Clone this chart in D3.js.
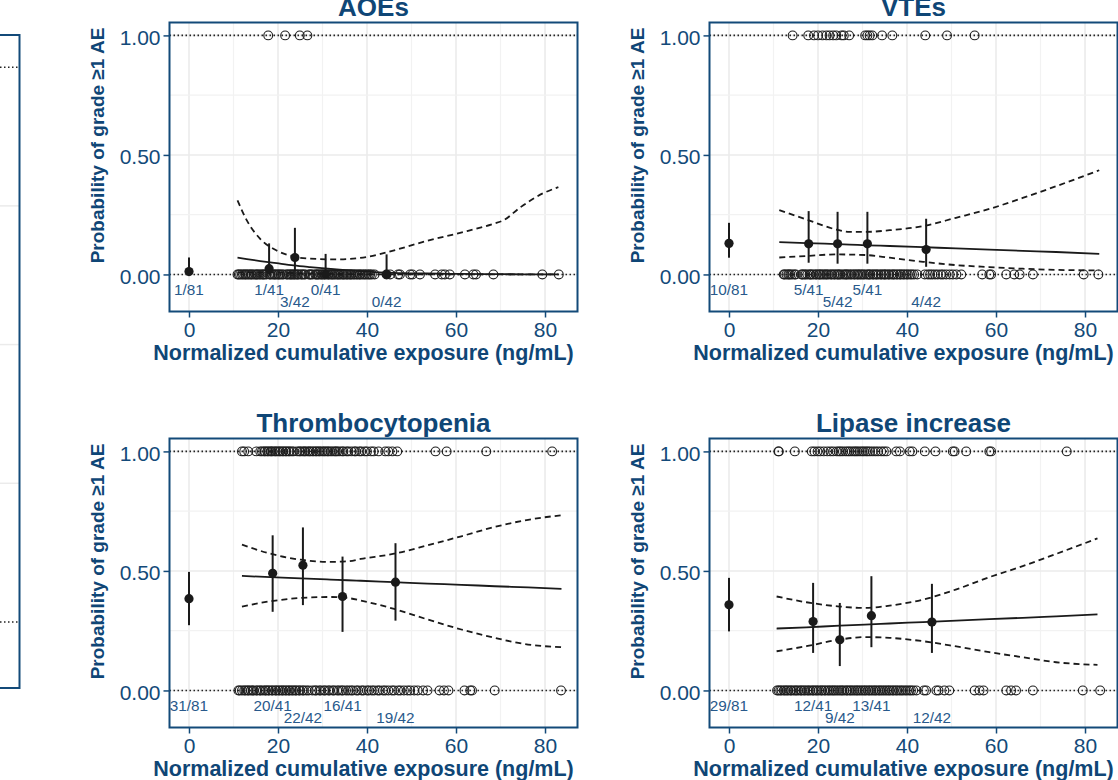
<!DOCTYPE html>
<html>
<head>
<meta charset="utf-8">
<script src="https://cdn.jsdelivr.net/npm/d3@7"></script>
<style>
  body { margin: 0; background: #fff; }
  svg { display: block; font-family: "Liberation Sans", Arial, sans-serif; }
</style>
</head>
<body>
<div id="chart"></div>
<script>
// ---------------- data ----------------
// AOEs
var aoeGroupX = [0, 18.0, 23.8, 30.7, 44.4];
var aoeGroupP = [0.012, 0.024, 0.071, 0, 0];
var aoeGroupLo = [0.0003, 0.001, 0.015, 0, 0];
var aoeGroupHi = [0.071, 0.13, 0.195, 0.086, 0.084];
var aoeGroupLabel = ["1/81", "1/41", "3/42", "0/41", "0/42"];
var aoeCurveX = [10.9, 13, 16, 19.7, 23.5, 27.2, 33.2, 39.9, 45.9, 53.4, 60.9, 68.4, 70.6, 74.4, 79.6, 83];
var aoeFit = [0.070, 0.064, 0.056, 0.047, 0.038, 0.031, 0.021, 0.012, 0.007, 0.004, 0.002, 0.001, 0.001, 0.0007, 0.0005, 0.0004];
var aoeUpper = [0.31, 0.226, 0.149, 0.10, 0.075, 0.066, 0.063, 0.073, 0.10, 0.14, 0.174, 0.212, 0.226, 0.28, 0.34, 0.365];
var aoeLower = [0.008, 0.009, 0.009, 0.008, 0.006, 0.004, 0.002, 0.001, 0.0004, 0.0001, 0, 0, 0, 0, 0, 0];
var aoeEvents = [17.8, 21.6, 24.9, 26.6];
var aoeNoEvents = [10.9, 11.2, 11.5, 11.9, 12.2, 12.6, 12.8, 13.2, 13.5, 13.9, 14.1, 14.5, 14.9, 15.2, 15.4, 15.8, 16.1, 16.5, 16.7, 17.0, 17.4, 18.1, 18.3, 18.7, 19.1, 19.3, 19.6, 20.0, 20.2, 20.5, 20.9, 21.2, 21.9, 22.1, 22.5, 22.8, 23.0, 23.3, 23.6, 23.8, 24.2, 24.4, 24.7, 25.2, 25.4, 25.8, 26.1, 26.9, 27.2, 27.4, 27.8, 28.4, 28.6, 28.9, 29.1, 29.5, 29.8, 30.0, 30.4, 30.5, 30.9, 31.3, 31.4, 31.8, 32.1, 32.3, 32.6, 32.9, 33.3, 33.5, 33.8, 34.1, 34.5, 34.7, 35.0, 35.4, 35.6, 36.0, 36.3, 36.5, 36.9, 37.2, 37.6, 37.9, 38.3, 38.5, 38.9, 39.3, 39.6, 40.0, 40.4, 40.7, 41.1, 41.7, 44.4, 45.2, 47.0, 47.4, 49.7, 50.2, 51.9, 55.3, 56.8, 57.5, 58.6, 62.0, 63.9, 64.5, 68.4, 79.4, 83.1];

// VTEs
var vteGroupX = [0, 17.9, 24.4, 31.1, 44.3];
var vteGroupP = [0.13, 0.128, 0.128, 0.128, 0.104];
var vteGroupLo = [0.07, 0.049, 0.045, 0.045, 0.032];
var vteGroupHi = [0.216, 0.265, 0.262, 0.262, 0.233];
var vteGroupLabel = ["10/81", "5/41", "5/42", "5/41", "4/42"];
var vteCurveX = [11.3, 17.4, 24.1, 27.1, 30.9, 36.1, 43.6, 51.0, 58.5, 66.0, 73.5, 83.2];
var vteFit = [0.135, 0.131, 0.127, 0.125, 0.122, 0.119, 0.114, 0.109, 0.104, 0.099, 0.094, 0.086];
var vteUpper = [0.269, 0.23, 0.188, 0.178, 0.178, 0.185, 0.202, 0.237, 0.274, 0.32, 0.369, 0.436];
var vteLower = [0.071, 0.077, 0.084, 0.083, 0.081, 0.07, 0.053, 0.039, 0.031, 0.024, 0.019, 0.017];
var vteEvents = [14.3, 17.8, 19.1, 20.0, 21.0, 21.9, 22.6, 23.4, 24.1, 25.3, 25.8, 27.0, 30.6, 31.1, 31.6, 32.2, 34.4, 36.7, 44.1, 49.0, 55.2];
var vteNoEvents = [12.3, 12.5, 12.9, 13.3, 13.5, 13.8, 14.2, 14.7, 15.0, 16.3, 16.5, 16.9, 17.2, 17.6, 18.1, 18.3, 18.6, 19.0, 19.5, 19.7, 20.2, 20.4, 20.7, 21.1, 21.4, 21.8, 22.0, 22.4, 22.9, 23.1, 23.6, 23.8, 24.3, 24.5, 24.8, 25.1, 25.6, 26.0, 26.3, 26.5, 26.9, 27.3, 27.6, 28.1, 28.3, 28.8, 29.0, 29.4, 29.7, 30.1, 30.4, 30.9, 31.3, 31.5, 31.8, 32.3, 32.5, 33.0, 33.2, 33.6, 34.1, 34.3, 34.8, 35.0, 35.3, 35.8, 36.0, 36.5, 36.9, 37.1, 37.6, 37.9, 38.4, 38.6, 39.1, 39.4, 39.9, 40.2, 40.7, 41.1, 41.6, 42.3, 44.0, 44.7, 45.2, 45.7, 46.3, 46.9, 47.6, 48.1, 48.8, 49.6, 50.3, 51.1, 52.2, 56.9, 58.5, 58.9, 62.3, 64.1, 65.3, 68.3, 79.7, 83.0];

// Thrombocytopenia
var thrGroupX = [0, 18.8, 25.6, 34.5, 46.4];
var thrGroupP = [0.384, 0.49, 0.524, 0.393, 0.453];
var thrGroupLo = [0.273, 0.329, 0.357, 0.245, 0.292];
var thrGroupHi = [0.496, 0.649, 0.682, 0.56, 0.616];
var thrGroupLabel = ["31/81", "20/41", "22/42", "16/41", "19/42"];
var thrCurveX = [11.9, 18.3, 25.1, 31.8, 35.6, 38.6, 46.1, 53.6, 61.2, 68.7, 76.2, 83.7];
var thrFit = [0.479, 0.474, 0.469, 0.464, 0.461, 0.459, 0.453, 0.447, 0.442, 0.436, 0.431, 0.425];
var thrUpper = [0.61, 0.572, 0.547, 0.538, 0.54, 0.55, 0.572, 0.607, 0.645, 0.684, 0.714, 0.733];
var thrLower = [0.351, 0.373, 0.387, 0.391, 0.387, 0.376, 0.341, 0.297, 0.255, 0.22, 0.192, 0.181];
var thrEvents = [11.9, 12.4, 13.3, 15.1, 16.0, 16.4, 16.9, 17.1, 17.6, 17.8, 18.3, 18.5, 18.8, 19.3, 19.5, 19.9, 20.3, 20.5, 21.0, 21.2, 21.7, 21.9, 22.4, 22.6, 23.1, 23.5, 24.3, 24.8, 25.0, 25.5, 25.9, 26.1, 26.6, 27.0, 27.2, 27.7, 28.0, 28.5, 28.7, 29.2, 29.4, 29.9, 30.3, 30.6, 31.1, 31.3, 31.8, 32.2, 32.7, 33.0, 33.3, 33.8, 34.4, 34.7, 35.4, 35.8, 36.5, 37.2, 37.5, 38.3, 38.7, 39.5, 40.0, 40.9, 41.5, 42.6, 44.1, 44.8, 45.7, 46.8, 55.4, 57.9, 66.8, 81.6];
var thrNoEvents = [11.1, 11.4, 11.9, 12.4, 12.7, 13.2, 13.4, 13.9, 14.3, 14.5, 15.1, 15.3, 15.9, 16.1, 16.6, 17.1, 17.3, 17.8, 18.0, 18.6, 18.8, 19.4, 19.6, 20.1, 20.4, 20.9, 21.1, 21.6, 21.9, 22.4, 22.6, 23.1, 23.4, 23.9, 24.1, 24.7, 24.9, 25.5, 25.8, 26.4, 26.9, 27.7, 28.3, 28.6, 29.3, 29.6, 30.3, 30.6, 31.3, 31.6, 32.3, 32.6, 33.3, 33.7, 34.3, 34.6, 35.3, 35.8, 36.4, 36.8, 37.6, 38.0, 38.8, 39.2, 40.0, 40.4, 41.1, 41.6, 42.4, 42.8, 43.6, 44.1, 44.8, 45.6, 46.1, 47.0, 47.5, 48.3, 49.1, 49.7, 50.6, 51.4, 52.6, 53.6, 56.3, 57.3, 58.3, 61.9, 63.2, 63.6, 68.7, 83.6];

// Lipase increase
var lipGroupX = [0, 18.9, 24.9, 32.0, 45.6];
var lipGroupP = [0.358, 0.288, 0.212, 0.313, 0.286];
var lipGroupLo = [0.247, 0.157, 0.102, 0.181, 0.157];
var lipGroupHi = [0.471, 0.45, 0.366, 0.478, 0.446];
var lipGroupLabel = ["29/81", "12/41", "9/42", "13/41", "12/42"];
var lipCurveX = [10.7, 17.4, 24.9, 30.5, 36.1, 43.6, 51.1, 58.5, 66.0, 73.5, 82.8];
var lipFit = [0.259, 0.264, 0.271, 0.275, 0.280, 0.286, 0.292, 0.298, 0.304, 0.310, 0.318];
var lipUpper = [0.393, 0.369, 0.351, 0.345, 0.355, 0.38, 0.423, 0.474, 0.52, 0.571, 0.636];
var lipLower = [0.164, 0.185, 0.213, 0.223, 0.22, 0.206, 0.184, 0.16, 0.139, 0.118, 0.107];
var lipEvents = [11.1, 11.2, 14.8, 18.6, 19.2, 19.9, 20.5, 21.3, 22.1, 22.8, 23.4, 24.2, 24.7, 25.1, 25.6, 26.2, 26.7, 27.1, 27.6, 28.1, 28.5, 28.9, 29.4, 29.9, 30.3, 30.8, 31.2, 31.7, 32.3, 32.9, 33.5, 34.2, 34.8, 35.4, 37.6, 38.4, 40.6, 41.2, 44.0, 46.4, 50.3, 50.7, 53.3, 58.5, 58.9, 75.9];
var lipNoEvents = [10.8, 11.1, 11.5, 11.8, 12.3, 12.6, 13.0, 13.3, 13.8, 14.0, 14.5, 14.9, 15.2, 15.6, 16.1, 16.3, 16.8, 17.1, 17.6, 17.9, 18.3, 18.8, 19.0, 19.5, 19.8, 20.2, 20.7, 20.9, 21.4, 21.7, 22.2, 22.5, 22.9, 23.3, 23.6, 24.0, 24.4, 24.8, 25.2, 25.5, 25.9, 26.4, 26.6, 27.1, 27.4, 27.8, 28.2, 28.6, 28.9, 29.3, 29.7, 30.1, 30.5, 30.8, 31.3, 31.6, 32.0, 32.4, 32.8, 33.1, 33.6, 33.9, 34.3, 34.7, 35.1, 35.5, 35.9, 36.2, 36.7, 37.0, 37.5, 37.8, 38.3, 38.7, 39.1, 39.6, 40.0, 40.5, 40.9, 41.4, 42.1, 43.8, 44.3, 46.6, 47.1, 48.4, 49.5, 55.2, 56.3, 57.2, 62.3, 63.4, 64.5, 68.3, 79.5, 83.4];

// axis ticks
var xTicks = [0, 20, 40, 60, 80];
var yTicks = [0, 0.5, 1];
var xGrid = [0, 10, 20, 30, 40, 50, 60, 70, 80];
var yGrid = [0, 0.25, 0.5, 0.75, 1];

// ---------------- layout ----------------
var svgWidth = 1118;
var svgHeight = 780;
var plotW = 408;
var plotH = 289;
var colX = [169.5, 709.5];
var rowY = [22.5, 438.5];

var navy = "#134a79";
var ink = "#1a1a1a";

var svg = d3.select("#chart")
  .append("svg")
  .attr("width", svgWidth)
  .attr("height", svgHeight);

var xScale = d3.scaleLinear().domain([-4.38, 87.3]).range([0, plotW]);
var yScale = d3.scaleLinear().domain([-0.155, 1.054]).range([plotH, 0]);

// edge of a neighbouring panel that is cut off on the left
var stubY = d3.scaleLinear().domain([-0.119, 1.058]).range([688, 35]);
var stub = svg.append("g");
stub.selectAll("line.grid").data([0.25, 0.5, 0.75]).enter().append("line")
  .attr("x1", 0).attr("x2", 19.5)
  .attr("y1", d => stubY(d)).attr("y2", d => stubY(d))
  .attr("stroke", "#ebebeb").attr("stroke-width", 1.5);
stub.selectAll("line.ref").data([0, 1]).enter().append("line")
  .attr("x1", 0).attr("x2", 19.5)
  .attr("y1", d => stubY(d)).attr("y2", d => stubY(d))
  .attr("stroke", "#222").attr("stroke-width", 1.6).attr("stroke-dasharray", "1.5,2.5");
stub.append("rect")
  .attr("x", -10).attr("y", stubY(1.058)).attr("width", 29.5).attr("height", stubY(-0.119) - stubY(1.058))
  .attr("fill", "none").attr("stroke", navy).attr("stroke-width", 2);

var panels = [
  { title: "AOEs", col: 0, row: 0, gx: aoeGroupX, gp: aoeGroupP, glo: aoeGroupLo, ghi: aoeGroupHi, glab: aoeGroupLabel,
    cx: aoeCurveX, fit: aoeFit, up: aoeUpper, lo: aoeLower, ev: aoeEvents, ne: aoeNoEvents },
  { title: "VTEs", col: 1, row: 0, gx: vteGroupX, gp: vteGroupP, glo: vteGroupLo, ghi: vteGroupHi, glab: vteGroupLabel,
    cx: vteCurveX, fit: vteFit, up: vteUpper, lo: vteLower, ev: vteEvents, ne: vteNoEvents },
  { title: "Thrombocytopenia", col: 0, row: 1, gx: thrGroupX, gp: thrGroupP, glo: thrGroupLo, ghi: thrGroupHi, glab: thrGroupLabel,
    cx: thrCurveX, fit: thrFit, up: thrUpper, lo: thrLower, ev: thrEvents, ne: thrNoEvents },
  { title: "Lipase increase", col: 1, row: 1, gx: lipGroupX, gp: lipGroupP, glo: lipGroupLo, ghi: lipGroupHi, glab: lipGroupLabel,
    cx: lipCurveX, fit: lipFit, up: lipUpper, lo: lipLower, ev: lipEvents, ne: lipNoEvents }
];

panels.forEach(function(p) {
  var g = svg.append("g")
    .attr("transform", `translate(${colX[p.col]}, ${rowY[p.row]})`);

  // grid
  g.selectAll("line.gx").data(xGrid).enter().append("line")
    .attr("x1", d => xScale(d)).attr("x2", d => xScale(d))
    .attr("y1", 0).attr("y2", plotH)
    .attr("stroke", d => d % 20 === 0 ? "#ebebeb" : "#f2f2f2")
    .attr("stroke-width", d => d % 20 === 0 ? 1.6 : 1.2);
  g.selectAll("line.gy").data(yGrid).enter().append("line")
    .attr("x1", 0).attr("x2", plotW)
    .attr("y1", d => yScale(d)).attr("y2", d => yScale(d))
    .attr("stroke", d => d % 0.5 === 0 ? "#ebebeb" : "#f2f2f2")
    .attr("stroke-width", d => d % 0.5 === 0 ? 1.6 : 1.2);

  // dotted lines at 0 and 1
  g.selectAll("line.ref").data([0, 1]).enter().append("line")
    .attr("x1", 0).attr("x2", plotW)
    .attr("y1", d => yScale(d)).attr("y2", d => yScale(d))
    .attr("stroke", "#222").attr("stroke-width", 1.6)
    .attr("stroke-dasharray", "1.5,2.5");

  // individual patients
  g.selectAll("circle.ev").data(p.ev).enter().append("circle")
    .attr("cx", d => xScale(d)).attr("cy", yScale(1)).attr("r", 4.4)
    .attr("fill", "none").attr("stroke", "#1e1e1e").attr("stroke-width", 1.1);
  g.selectAll("circle.ne").data(p.ne).enter().append("circle")
    .attr("cx", d => xScale(d)).attr("cy", yScale(0)).attr("r", 4.4)
    .attr("fill", "none").attr("stroke", "#1e1e1e").attr("stroke-width", 1.1);

  // logistic fit and confidence band
  var pts = p.cx.map((x, i) => ({ x: x, fit: p.fit[i], up: p.up[i], lo: p.lo[i] }));
  ["up", "lo"].forEach(function(k) {
    var ciLine = d3.line().curve(d3.curveMonotoneX)
      .x(d => xScale(d.x)).y(d => yScale(d[k]));
    g.append("path").attr("d", ciLine(pts))
      .attr("fill", "none").attr("stroke", ink).attr("stroke-width", 1.8)
      .attr("stroke-dasharray", "6,4");
  });
  var fitLine = d3.line().curve(d3.curveMonotoneX)
    .x(d => xScale(d.x)).y(d => yScale(d.fit));
  g.append("path").attr("d", fitLine(pts))
    .attr("fill", "none").attr("stroke", ink).attr("stroke-width", 1.8);

  // observed proportions with 95% CI
  var grp = p.gx.map((x, i) => ({ x: x, p: p.gp[i], lo: p.glo[i], hi: p.ghi[i], label: p.glab[i], i: i }));
  g.selectAll("line.err").data(grp).enter().append("line")
    .attr("x1", d => xScale(d.x)).attr("x2", d => xScale(d.x))
    .attr("y1", d => yScale(d.lo)).attr("y2", d => yScale(d.hi))
    .attr("stroke", ink).attr("stroke-width", 2);
  g.selectAll("circle.pt").data(grp).enter().append("circle")
    .attr("cx", d => xScale(d.x)).attr("cy", d => yScale(d.p)).attr("r", 4.6)
    .attr("fill", ink);

  // n/N labels
  g.selectAll("text.n").data(grp).enter().append("text")
    .attr("x", d => xScale(d.x))
    .attr("y", d => yScale(0) + (d.i === 2 || d.i === 4 ? 33 : 20.5))
    .attr("text-anchor", "middle")
    .attr("font-size", "15.3px")
    .attr("fill", "#28598b")
    .text(d => d.label);

  // axes
  var leftAxis = d3.axisLeft(yScale).tickValues(yTicks).tickFormat(d3.format(".2f")).tickSize(6).tickPadding(3);
  var bottomAxis = d3.axisBottom(xScale).tickValues(xTicks).tickSize(6).tickPadding(5);
  var ya = g.append("g").call(leftAxis).attr("color", navy).attr("font-size", 21).attr("font-family", null);
  ya.select(".domain").remove();
  ya.selectAll("line").attr("stroke-width", 1.5);
  ya.selectAll("text").attr("dy", "0.43em");
  var xa = g.append("g").attr("transform", `translate(0, ${plotH})`).call(bottomAxis)
    .attr("color", navy).attr("font-size", 21).attr("font-family", null);
  xa.select(".domain").remove();
  xa.selectAll("line").attr("stroke-width", 1.5);

  // border
  g.append("rect").attr("x", 0).attr("y", 0).attr("width", plotW).attr("height", plotH)
    .attr("fill", "none").attr("stroke", navy).attr("stroke-width", 2);

  // titles
  g.append("text")
    .attr("x", plotW / 2).attr("y", -7)
    .attr("text-anchor", "middle")
    .attr("font-size", "26px").attr("font-weight", "bold")
    .attr("fill", "#0f4676")
    .text(p.title);

  g.append("text")
    .attr("x", 194).attr("y", plotH + 48)
    .attr("text-anchor", "middle")
    .attr("font-size", "21.5px").attr("font-weight", "bold")
    .attr("fill", "#0f4676")
    .text("Normalized cumulative exposure (ng/mL)");

  g.append("text")
    .attr("transform", `translate(-72.5, 123) rotate(-90)`)
    .attr("dy", "0.36em")
    .attr("text-anchor", "middle")
    .attr("font-size", "19px").attr("font-weight", "bold")
    .attr("fill", "#0f4676")
    .text("Probability of grade \u22651 AE");
});
</script>
</body>
</html>
